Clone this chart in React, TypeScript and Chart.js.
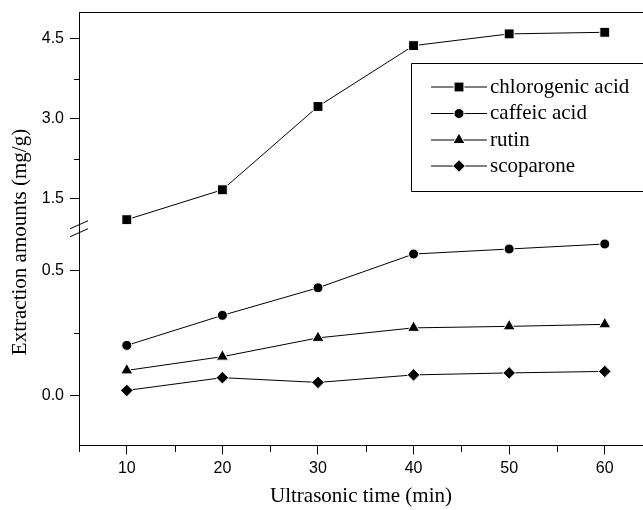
import { useEffect, useRef } from 'react';
import { Chart, registerables } from 'chart.js';
import { drawPoint } from 'chart.js/helpers';

Chart.register(...registerables);

const times = [10, 20, 30, 40, 50, 60];
const chlorogenicAcid = [1.11, 1.67, 3.23, 4.37, 4.59, 4.62];
const caffeicAcid = [0.2, 0.32, 0.43, 0.565, 0.585, 0.605];
const rutin = [0.1, 0.155, 0.23, 0.27, 0.276, 0.284];
const scoparone = [0.02, 0.071, 0.052, 0.082, 0.09, 0.096];
const seriesLabels = ['chlorogenic acid', 'caffeic acid', 'rutin', 'scoparone'];

const xMajorTicks = [10, 20, 30, 40, 50, 60];
const xMinorTicks = [5, 15, 25, 35, 45, 55];
const upperMajorTicks = [1.5, 3.0, 4.5];
const upperMinorTicks = [2.25, 3.75];
const lowerMajorTicks = [0.0, 0.5];
const lowerMinorTicks = [0.25];

const xTitle = 'Ultrasonic time (min)';
const yTitle = 'Extraction amounts (mg/g)';

const SERIF = '"Liberation Serif", "Times New Roman", serif';
const SANS = '"Liberation Sans", Arial, sans-serif';

const toPoints = (vals: number[]) => times.map((t, i) => ({ x: t, y: vals[i] }));

const decorPlugin = {
  id: 'decor',
  afterDraw(chart: any) {
    const { ctx, chartArea: ca, scales } = chart;
    ctx.save();
    ctx.strokeStyle = '#000';
    ctx.lineWidth = 1;
    // top frame
    const topY = Math.round(ca.top) + 0.5;
    ctx.beginPath();
    ctx.moveTo(ca.left, topY);
    ctx.lineTo(ca.right, topY);
    ctx.stroke();
    // minor ticks x
    const xs = scales.x;
    const axisY = Math.round(ca.bottom);
    xMinorTicks.forEach((v) => {
      const px = Math.round(xs.getPixelForValue(v)) + 0.5;
      ctx.beginPath();
      ctx.moveTo(px, axisY);
      ctx.lineTo(px, axisY + 6);
      ctx.stroke();
    });
    const axisX = Math.round(ca.left);
    const drawYMinor = (scale: any, vals: number[]) => {
      vals.forEach((v) => {
        const py = Math.round(scale.getPixelForValue(v)) + 0.5;
        ctx.beginPath();
        ctx.moveTo(axisX - 5, py);
        ctx.lineTo(axisX, py);
        ctx.stroke();
      });
    };
    drawYMinor(scales.yUpper, upperMinorTicks);
    drawYMinor(scales.yLower, lowerMinorTicks);
    // break marks
    const by = scales.yUpper.bottom;
    [-4, 4].forEach((d) => {
      ctx.beginPath();
      ctx.moveTo(axisX - 9, by + d + 4);
      ctx.lineTo(axisX + 9, by + d - 4);
      ctx.stroke();
    });
    // y title
    ctx.fillStyle = '#000';
    ctx.font = '21px ' + SERIF;
    ctx.textAlign = 'center';
    ctx.textBaseline = 'middle';
    ctx.save();
    ctx.translate(20, 242);
    ctx.rotate(-Math.PI / 2);
    ctx.fillText(yTitle, 0, 0);
    ctx.restore();
    // legend
    const bx = 411.5, byTop = 63.5, bw = 260, bh = 128;
    ctx.beginPath();
    ctx.rect(bx, byTop, bw, bh);
    ctx.stroke();
    const rows = [87, 113.5, 140, 166];
    chart.data.datasets.forEach((ds: any, i: number) => {
      const y = rows[i];
      ctx.strokeStyle = '#000';
      ctx.lineWidth = 1;
      ctx.beginPath();
      ctx.moveTo(431, y);
      ctx.lineTo(487, y);
      ctx.stroke();
      ctx.fillStyle = '#000';
      ctx.strokeStyle = '#fff';
      drawPoint(ctx, { pointStyle: ds.pointStyle, radius: ds.pointRadius, borderWidth: 1, rotation: 0 }, 459, y);
      ctx.fillStyle = '#000';
      ctx.font = '21px ' + SERIF;
      ctx.textAlign = 'left';
      ctx.textBaseline = 'middle';
      ctx.fillText(ds.label, 490, y);
    });
    ctx.restore();
  },
};

const makeDs = (label: string, vals: number[], axis: string, style: string, r: number) => ({
  label,
  data: toPoints(vals),
  yAxisID: axis,
  borderColor: '#000',
  borderWidth: 1,
  pointStyle: style,
  pointRadius: r,
  pointBackgroundColor: '#000',
  pointBorderColor: '#fff',
  pointBorderWidth: 1,
  tension: 0,
  fill: false,
  clip: false,
});

const yBase = (majors: number[], min: number, max: number) => ({
  type: 'linear',
  position: 'left',
  stack: 'y',
  stackWeight: 1,
  min,
  max,
  afterBuildTicks: (s: any) => {
    s.ticks = majors.map((v) => ({ value: v }));
  },
  afterFit: (s: any) => {
    s.width = 79;
    s.paddingTop = 0;
    s.paddingBottom = 0;
  },
  ticks: {
    font: { family: SANS, size: 16 },
    color: '#000',
    padding: 6,
    callback: (v: any) => Number(v).toFixed(1),
  },
  grid: { drawOnChartArea: false, drawTicks: true, tickLength: 9, tickColor: '#000', tickWidth: 1, color: '#000' },
  border: { display: true, color: '#000', width: 1 },
});

export default function App() {
  const ref = useRef<HTMLCanvasElement | null>(null);
  useEffect(() => {
    document.body.style.margin = '0';
    if (!ref.current) return;
    const chart = new Chart(ref.current, {
      type: 'line',
      data: {
        datasets: [
          makeDs(seriesLabels[0], chlorogenicAcid, 'yUpper', 'rect', 7),
          makeDs(seriesLabels[1], caffeicAcid, 'yLower', 'circle', 5),
          makeDs(seriesLabels[2], rutin, 'yLower', 'triangle', 7),
          makeDs(seriesLabels[3], scoparone, 'yLower', 'rectRot', 6.3),
        ] as any,
      },
      options: {
        animation: false,
        responsive: true,
        maintainAspectRatio: false,
        layout: { autoPadding: false, padding: { top: 12, left: 0, right: 0, bottom: 0 } },
        plugins: { legend: { display: false }, tooltip: { enabled: false } },
        scales: {
          x: {
            type: 'linear',
            position: 'bottom',
            min: 5,
            max: 64,
            afterBuildTicks: (s: any) => {
              s.ticks = xMajorTicks.map((v) => ({ value: v }));
            },
            afterFit: (s: any) => {
              s.height = 64.5;
              s.paddingLeft = 0;
              s.paddingRight = 0;
            },
            ticks: { font: { family: SANS, size: 16 }, color: '#000', padding: 4, callback: (v: any) => String(v) },
            grid: { drawOnChartArea: false, drawTicks: true, tickLength: 9, tickColor: '#000', tickWidth: 1, color: '#000' },
            border: { display: true, color: '#000', width: 1 },
            title: { display: true, text: xTitle, color: '#000', font: { family: SERIF, size: 21 }, padding: { top: 0, bottom: 1 } },
          },
          yLower: yBase(lowerMajorTicks, -0.2, 0.666),
          yUpper: yBase(upperMajorTicks, 0.94, 5.0),
        } as any,
      },
      plugins: [decorPlugin],
    });
    return () => chart.destroy();
  }, []);
  return (
    <div style={{ position: 'relative', width: '643px', height: '510px' }}>
      <canvas ref={ref} />
    </div>
  );
}
